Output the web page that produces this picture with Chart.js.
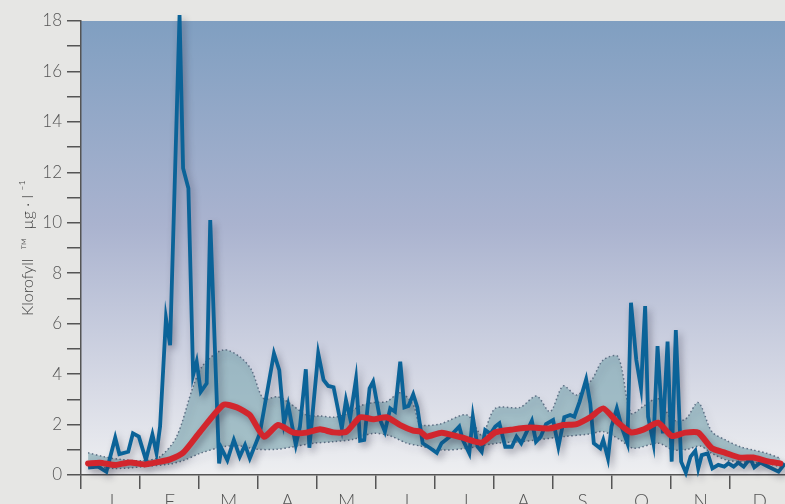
<!DOCTYPE html>
<html>
<head>
<meta charset="utf-8">
<script src="https://cdn.jsdelivr.net/npm/chart.js@4/dist/chart.umd.min.js"></script>
<style>
  html, body { margin: 0; padding: 0; background: #e6e6e4; overflow: hidden; }
  #wrap { width: 785px; height: 504px; position: relative; }
</style>
</head>
<body>
<div id="wrap"><canvas id="chart"></canvas></div>
<script>
const MONTHS = ['J', 'F', 'M', 'A', 'M', 'J', 'J', 'A', 'S', 'O', 'N', 'D'];

// x = month position (0 = start of Jan), y = µg/l
const DAILY_X = [0.12, 0.29, 0.43, 0.58, 0.65, 0.80, 0.88, 0.98, 1.10, 1.21, 1.28, 1.34, 1.44, 1.51, 1.67, 1.73, 1.82, 1.90, 1.96, 2.03,
  2.13, 2.19, 2.34, 2.38, 2.48, 2.59, 2.69, 2.78, 2.86, 3.03, 3.17, 3.27, 3.36, 3.44, 3.51, 3.64, 3.71, 3.81, 3.87, 4.02,
  4.11, 4.19, 4.28, 4.42, 4.49, 4.56, 4.66, 4.73, 4.80, 4.89, 4.95, 5.07, 5.15, 5.24, 5.32, 5.41, 5.48, 5.55, 5.63, 5.70,
  5.79, 5.92, 6.03, 6.11, 6.25, 6.41, 6.47, 6.58, 6.64, 6.72, 6.79, 6.85, 6.94, 7.02, 7.09, 7.19, 7.30, 7.38, 7.46, 7.54,
  7.64, 7.71, 7.79, 7.88, 8.00, 8.09, 8.19, 8.29, 8.36, 8.45, 8.56, 8.63, 8.69, 8.80, 8.85, 8.93, 8.99, 9.08, 9.16, 9.26,
  9.32, 9.41, 9.49, 9.56, 9.61, 9.70, 9.77, 9.86, 9.94, 10.01, 10.08, 10.17, 10.25, 10.33, 10.41, 10.46, 10.52, 10.62, 10.70, 10.80,
  10.90, 10.97, 11.06, 11.14, 11.23, 11.34, 11.41, 11.51, 11.65, 11.82, 11.93];
const DAILY_Y = [0.29, 0.33, 0.13, 1.48, 0.83, 0.92, 1.65, 1.52, 0.60, 1.61, 0.86, 1.92, 6.21, 5.15, 18.24, 12.16, 11.37, 3.96, 4.49, 3.30,
  3.63, 10.11, 0.46, 1.06, 0.59, 1.39, 0.73, 1.19, 0.66, 1.65, 3.50, 4.82, 4.16, 2.05, 2.78, 1.19, 1.92, 4.19, 1.08, 4.82,
  3.77, 3.53, 3.48, 1.85, 2.97, 2.25, 3.80, 1.36, 1.39, 3.44, 3.70, 2.18, 1.72, 2.64, 2.51, 4.49, 2.68, 2.74, 3.20, 2.68,
  1.26, 1.06, 0.88, 1.26, 1.52, 1.92, 1.39, 0.86, 2.31, 1.12, 0.92, 1.78, 1.63, 1.92, 2.05, 1.12, 1.12, 1.52, 1.26, 1.65,
  2.15, 1.32, 1.52, 2.02, 2.18, 1.12, 2.29, 2.38, 2.31, 2.91, 3.79, 2.84, 1.26, 1.06, 1.39, 0.66, 1.92, 2.64, 1.92, 1.26,
  6.83, 4.56, 3.44, 6.70, 2.31, 1.26, 5.11, 1.65, 5.29, 0.53, 5.75, 0.53, 0.09, 0.73, 0.96, 0.26, 0.79, 0.86, 0.26, 0.40,
  0.33, 0.46, 0.33, 0.49, 0.33, 0.66, 0.31, 0.49, 0.33, 0.13, 0.46];

const MEAN_X = [0.12, 0.32, 0.58, 0.83, 1.08, 1.34, 1.51, 1.73, 2.02, 2.41, 2.64, 2.86, 3.10, 3.34, 3.60, 3.82, 4.05, 4.28, 4.50, 4.73,
  4.95, 5.18, 5.41, 5.63, 5.75, 5.86, 6.11, 6.45, 6.79, 7.02, 7.33, 7.61, 7.95, 8.17, 8.40, 8.63, 8.85, 9.08, 9.32, 9.54,
  9.78, 10.01, 10.24, 10.46, 10.69, 10.92, 11.17, 11.39, 11.62, 11.85];
const MEAN_Y = [0.46, 0.49, 0.40, 0.50, 0.42, 0.53, 0.62, 0.88, 1.72, 2.78, 2.68, 2.38, 1.52, 1.98, 1.68, 1.68, 1.81, 1.69, 1.72, 2.29,
  2.21, 2.29, 1.98, 1.76, 1.72, 1.52, 1.68, 1.49, 1.28, 1.69, 1.81, 1.88, 1.85, 1.98, 2.02, 2.29, 2.64, 2.11, 1.69, 1.81,
  2.07, 1.55, 1.68, 1.68, 1.06, 0.88, 0.69, 0.69, 0.55, 0.46];

const UPPER_X = [0.12, 0.38, 0.66, 1.06, 1.34, 1.62, 1.90, 2.07, 2.41, 2.69, 2.89, 3.09, 3.34, 3.54, 3.82, 4.05, 4.28, 4.50, 4.73, 4.95,
  5.18, 5.41, 5.63, 5.75, 6.08, 6.54, 6.79, 7.02, 7.44, 7.72, 7.95, 8.17, 8.40, 8.66, 8.85, 9.10, 9.32, 9.54, 9.78, 10.01,
  10.24, 10.46, 10.69, 10.92, 11.17, 11.39, 11.62, 11.85];
const UPPER_Y = [0.88, 0.73, 0.62, 0.57, 0.73, 1.52, 3.50, 4.36, 4.96, 4.69, 4.16, 3.04, 3.10, 2.84, 2.38, 2.34, 2.29, 2.42, 2.74, 2.87,
  2.91, 3.26, 2.78, 2.02, 2.02, 2.38, 1.59, 2.64, 2.68, 3.13, 2.51, 3.53, 3.17, 3.79, 4.56, 4.69, 2.45, 2.74, 3.04, 2.21,
  2.21, 2.87, 1.72, 1.39, 1.12, 0.99, 0.86, 0.66];

const LOWER_X = [0.12, 0.55, 1.06, 1.51, 1.73, 2.02, 2.41, 2.69, 2.98, 3.32, 3.60, 3.94, 4.28, 4.62, 4.95, 5.24, 5.52, 5.75, 6.08, 6.54,
  7.05, 7.44, 7.72, 8.17, 8.63, 8.85, 9.14, 9.36, 9.78, 10.04, 10.28, 10.49, 10.69, 10.94, 11.17, 11.39, 11.62, 11.85];
const LOWER_Y = [0.40, 0.26, 0.33, 0.44, 0.57, 0.86, 1.12, 1.15, 1.02, 1.02, 1.12, 1.26, 1.32, 1.42, 1.65, 1.55, 1.26, 1.15, 0.99, 1.06,
  1.26, 1.32, 1.39, 1.52, 1.63, 1.72, 1.39, 1.06, 1.26, 0.99, 1.02, 1.15, 0.86, 0.59, 0.53, 0.49, 0.46, 0.33];

const Y_MIN = 0, Y_MAX = 18;
const X_MAX = 11.93;

const pts = (xs, ys) => xs.map((x, i) => ({ x: x, y: ys[i] }));

// gradient behind the plot
const plotBackground = {
    id: 'plotBackground',
    beforeDraw(chart) {
        const { ctx, chartArea } = chart;
        const g = ctx.createLinearGradient(0, chartArea.top, 0, chartArea.bottom);
        g.addColorStop(0, '#809fc1');
        g.addColorStop(0.45, '#aab3cf');
        g.addColorStop(0.8, '#d6d9e5');
        g.addColorStop(1, '#eeeff1');
        ctx.save();
        ctx.fillStyle = g;
        ctx.fillRect(chartArea.left, chartArea.top, chartArea.right - chartArea.left, chartArea.bottom - chartArea.top);
        ctx.restore();
    }
};

// soft drop shadow under the lines
const lineShadow = {
    id: 'lineShadow',
    beforeDatasetDraw(chart) {
        const ctx = chart.ctx;
        ctx.save();
        ctx.shadowColor = 'rgba(40, 40, 60, 0.38)';
        ctx.shadowBlur = 7;
        ctx.shadowOffsetX = 3;
        ctx.shadowOffsetY = 4;
    },
    afterDatasetDraw(chart) {
        chart.ctx.restore();
    }
};

const ctx = document.getElementById('chart').getContext('2d');
new Chart(ctx, {
    type: 'line',
    data: {
        datasets: [
            {
                label: 'Maks',
                data: pts(UPPER_X, UPPER_Y),
                borderColor: '#5d6f85',
                borderWidth: 1.5,
                borderDash: [1.5, 2.5],
                backgroundColor: 'rgba(122, 166, 176, 0.62)',
                fill: '+1',
                tension: 0.3,
                pointRadius: 0,
                order: 3
            },
            {
                label: 'Min',
                data: pts(LOWER_X, LOWER_Y),
                borderColor: '#5d6f85',
                borderWidth: 1.5,
                borderDash: [1.5, 2.5],
                fill: false,
                tension: 0.3,
                pointRadius: 0,
                order: 2
            },
            {
                label: 'Klorofyll',
                data: pts(DAILY_X, DAILY_Y),
                borderColor: '#0b6398',
                borderWidth: 3.8,
                fill: false,
                tension: 0,
                pointRadius: 0,
                clip: false,
                order: 1
            },
            {
                label: 'Middel',
                data: pts(MEAN_X, MEAN_Y),
                borderColor: '#d2262d',
                borderWidth: 6,
                borderJoinStyle: 'round',
                borderCapStyle: 'round',
                fill: false,
                tension: 0.2,
                pointRadius: 0,
                order: 0
            }
        ]
    },
    options: {
        responsive: true,
        maintainAspectRatio: false,
        animation: false,
        layout: { padding: { top: 21, right: 0, bottom: 0, left: 0 } },
        plugins: {
            legend: { display: false },
            tooltip: { enabled: false }
        },
        scales: {
            x: {
                type: 'linear',
                min: 0,
                max: X_MAX,
                afterFit: (scale) => { scale.height = 29; },
                border: { color: '#555', width: 1.5 },
                grid: {
                    drawOnChartArea: false,
                    tickLength: 14,
                    lineWidth: 1.5,
                    color: (c) => (c.tick && Number.isInteger(c.tick.value)) ? '#555' : 'rgba(0,0,0,0)'
                },
                ticks: {
                    stepSize: 0.5,
                    includeBounds: false,
                    autoSkip: false,
                    maxRotation: 0,
                    padding: 1,
                    color: '#555',
                    font: { family: 'Lato', size: 19, weight: 300 },
                    callback: (v) => (v % 1 === 0.5) ? MONTHS[Math.floor(v)] : ''
                }
            },
            y: {
                min: Y_MIN,
                max: Y_MAX,
                afterFit: (scale) => { scale.width = 81; },
                border: { color: '#555', width: 1.5 },
                grid: {
                    drawOnChartArea: false,
                    tickLength: 14,
                    lineWidth: 1.5,
                    color: '#555'
                },
                ticks: {
                    stepSize: 1,
                    padding: 5,
                    color: '#555',
                    font: { family: 'Lato', size: 17, weight: 300 },
                    callback: (v) => (v % 2 === 0) ? String(v) : ''
                },
                title: {
                    display: true,
                    text: 'Klorofyll  ™  µg · l ⁻¹',
                    color: '#444',
                    padding: { top: 18, bottom: 0 },
                    font: { family: 'Lato', size: 16, weight: 300 }
                }
            }
        }
    },
    plugins: [plotBackground, lineShadow]
});
</script>
</body>
</html>
